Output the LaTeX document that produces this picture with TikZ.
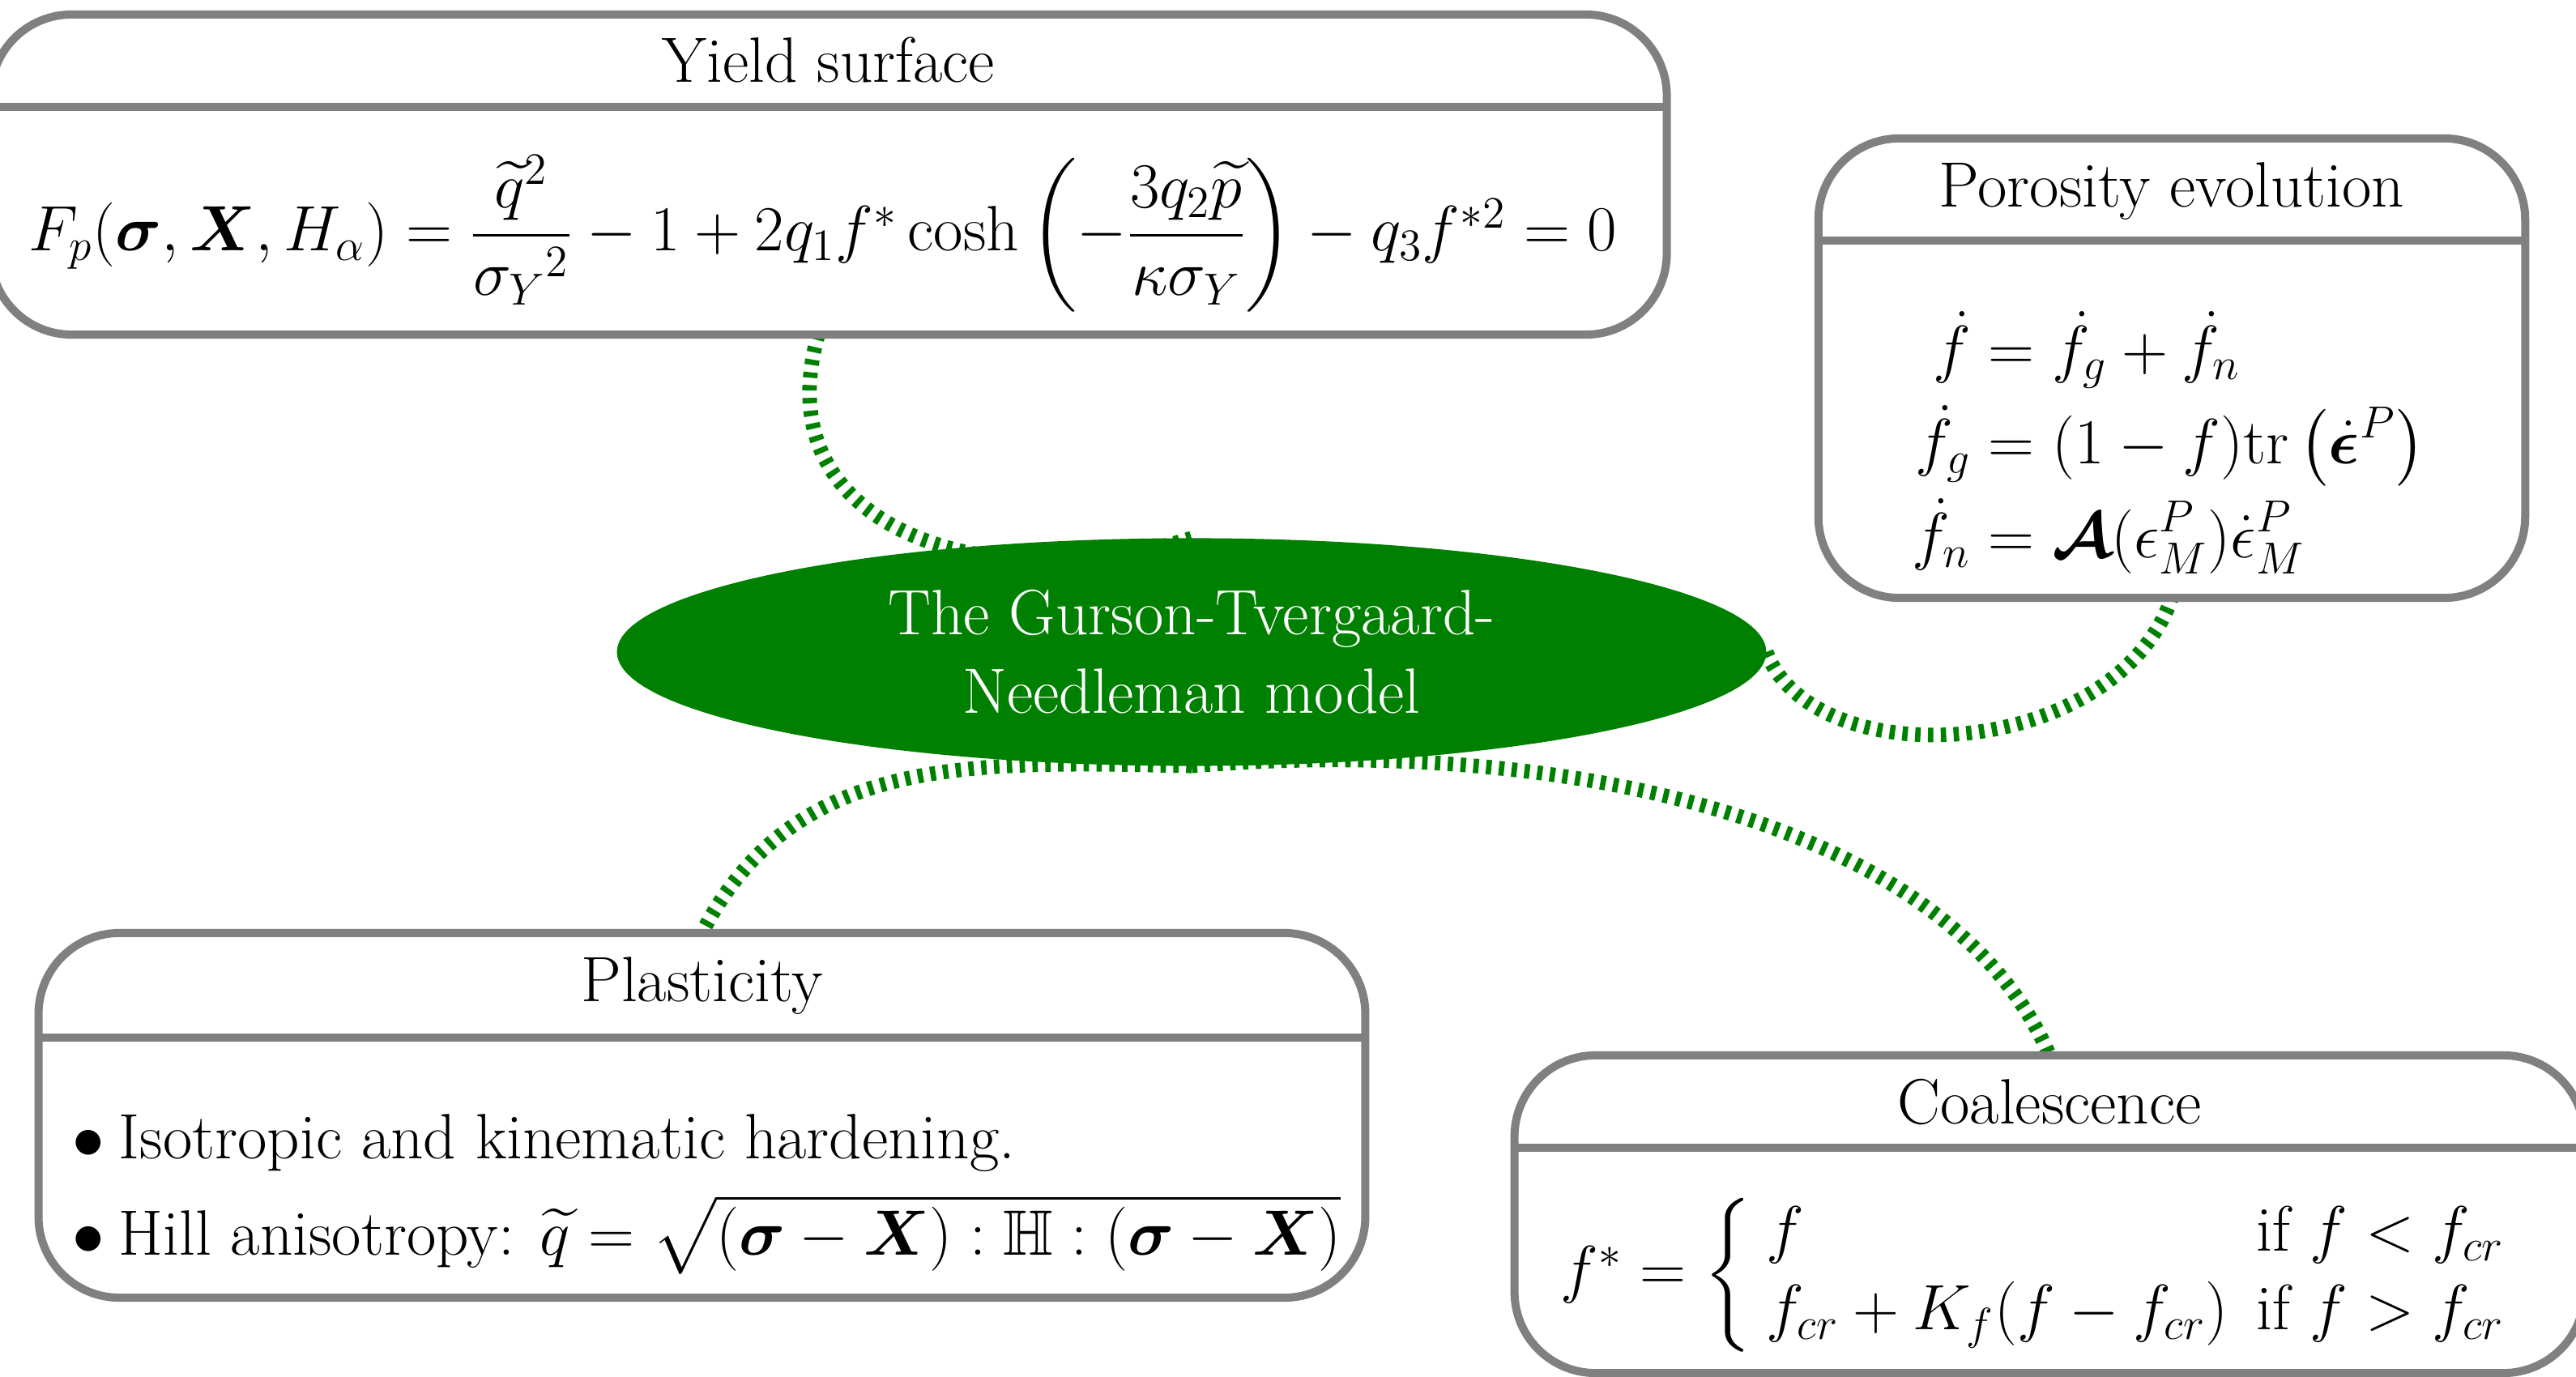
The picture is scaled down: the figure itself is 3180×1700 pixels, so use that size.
\RequirePackage{fix-cm}
\documentclass[tikz,border=0pt]{standalone}
\usepackage{amsmath,amssymb,bm}
\usetikzlibrary{shapes.geometric,backgrounds}
\definecolor{gtngreen}{RGB}{0,128,0}
\definecolor{boxgray}{RGB}{128,128,128}
\begin{document}
\begin{tikzpicture}[x=0.01cm,y=-0.01cm,
  font=\fontsize{22.5}{27.5}\selectfont,
  infobox/.style={draw=boxgray,line width=2.85pt,rounded corners=1cm,fill=white,inner sep=0pt,outer sep=0pt},
  sepline/.style={draw=boxgray,line width=2.85pt},
  boxtitle/.style={anchor=base,inner sep=0pt},
  link/.style={draw=gtngreen,line width=5.1pt,dash pattern=on 1.9pt off 2.6pt},
  concept/.style={ellipse,fill=gtngreen,text=white,inner sep=0pt,outer sep=0pt,
    minimum width=14.18cm,minimum height=2.81cm,align=center}]
\useasboundingbox (0,0) rectangle (3180,1700);

% Yield surface
\node[infobox,minimum width=20.68cm,minimum height=3.95cm] (yield) at (1023,215.5) {};
\draw[sepline] ([yshift=-1.14cm]yield.north west) -- ([yshift=-1.14cm]yield.north east);
\node[boxtitle] (yieldT) at (1023,102) {Yield surface};
\node[anchor=base,inner sep=0pt] (yieldE) at (1016,310)
  {$F_p(\boldsymbol{\sigma},\boldsymbol{X},H_\alpha)=\dfrac{\widetilde{q}^2}{{\sigma_Y}^2}-1+2q_1f^*\cosh\left(-\dfrac{3q_2\widetilde{p}}{\kappa\sigma_Y}\right)-q_3f^{*2}=0$};

% Porosity evolution
\node[infobox,minimum width=8.72cm,minimum height=5.67cm] (poro) at (2681,454.5) {};
\draw[sepline] ([yshift=-1.26cm]poro.north west) -- ([yshift=-1.26cm]poro.north east);
\node[boxtitle] (poroT) at (2681,255) {Porosity evolution};
\node[inner sep=0pt] (poroE) at (2677,551)
  {$\begin{aligned}
  \dot{f} &= \dot{f}_g+\dot{f}_n\\
  \dot{f}_g &= (1-f)\mathrm{tr}\left(\dot{\boldsymbol{\epsilon}}^P\right)\\
  \dot{f}_n &= \boldsymbol{\mathcal{A}}(\epsilon^P_M)\dot{\epsilon}^P_M
  \end{aligned}$};

% Plasticity
\node[infobox,minimum width=16.37cm,minimum height=4.50cm] (plast) at (866.5,1377) {};
\draw[sepline] ([yshift=-1.29cm]plast.north west) -- ([yshift=-1.29cm]plast.north east);
\node[boxtitle] (plastT) at (866.5,1236) {Plasticity};
\node[anchor=base west,inner sep=0pt] (plastA) at (89,1430) {$\bullet$\hspace{5pt}Isotropic and kinematic hardening.};
\node[anchor=base west,inner sep=0pt] (plastB) at (89,1549)
  {$\bullet$\hspace{5pt}Hill anisotropy: $\widetilde{q}=\sqrt{(\boldsymbol{\sigma}-\boldsymbol{X}):\mathbb{H}:(\boldsymbol{\sigma}-\boldsymbol{X})}$};

% Coalescence
\node[infobox,minimum width=13.20cm,minimum height=3.92cm] (coal) at (2530,1499) {};
\draw[sepline] ([yshift=-1.14cm]coal.north west) -- ([yshift=-1.14cm]coal.north east);
\node[boxtitle] (coalT) at (2530,1387) {Coalescence};
\node[inner sep=0pt] (coalE) at (2520,1574)
  {$f^*=\left\{\begin{array}{ll}
  f & \text{if } f<f_{cr}\\
  f_{cr}+K_f(f-f_{cr}) & \text{if } f>f_{cr}
  \end{array}\right.$};

% Central concept
\node[concept] (gtn) at (1471,805) {The Gurson-Tvergaard-\\Needleman model};

\begin{pgfonlayer}{background}
\draw[link] ([xshift=-0.13cm]yield.south) .. controls (940,660) and (1230,740) .. (gtn.north);
\draw[link] (gtn.south) .. controls (1200,940) and (980,930) .. (plast.north);
\draw[link] (gtn.south) .. controls (1900,910) and (2400,1000) .. (coal.north);
\draw[link] (gtn.east) .. controls (2240,960) and (2610,940) .. (poro.south);
\end{pgfonlayer}
\end{tikzpicture}
\end{document}
